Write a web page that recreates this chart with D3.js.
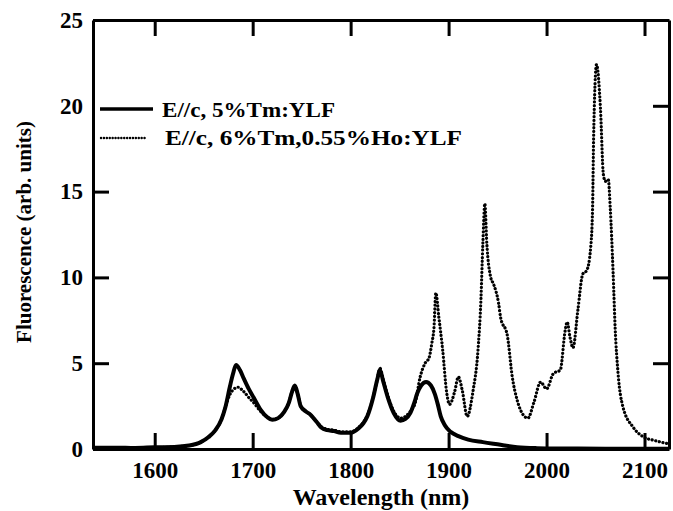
<!DOCTYPE html>
<html>
<head>
<meta charset="utf-8">
<script src="https://cdn.jsdelivr.net/npm/d3@7"></script>
<style>
  html, body { margin: 0; padding: 0; background: #fff; }
  svg { display: block; }
  text { font-family: "Liberation Serif", "Times New Roman", serif; fill: #000; }
</style>
</head>
<body>
<svg id="chart" width="673" height="511"></svg>
<script>
// ---- data ----
const xTicks = [1600, 1700, 1800, 1900, 2000, 2100];
const yTicks = [0, 5, 10, 15, 20, 25];
const seriesNames = ["E//c, 5%Tm:YLF", "E//c, 6%Tm,0.55%Ho:YLF"];

const tmWavelength = [1537,1560,1580,1600,1620,1635,1647,1655,1662,1668,1672,1677,1680,1683,1687,1691,1696,1701,1708,1715,1720,1726,1732,1737,1740,1743,1746,1749,1754,1759,1765,1770,1776,1783,1790,1800,1808,1813,1817,1823,1827,1830,1833,1838,1844,1851,1856,1861,1865,1868,1872,1877,1882,1886,1889,1892,1896,1902,1910,1920,1935,1953,1970,1990,2020,2060,2125];
const tmValues = [0.08,0.08,0.06,0.1,0.12,0.2,0.4,0.7,1.1,1.7,2.4,3.7,4.4,4.9,4.6,4.1,3.5,3.0,2.3,1.85,1.7,1.8,2.15,2.7,3.3,3.7,3.2,2.5,2.2,2.0,1.6,1.25,1.1,1.05,0.95,0.95,1.2,1.5,1.9,3.0,4.0,4.6,4.0,3.0,2.1,1.65,1.75,2.1,2.7,3.25,3.7,3.9,3.7,3.2,2.6,1.9,1.4,1.0,0.75,0.55,0.4,0.25,0.1,0.05,0.03,0.02,0.02];

const hoWavelength = [1537,1560,1600,1620,1635,1647,1655,1662,1668,1672,1677,1681,1685,1690,1696,1701,1708,1715,1720,1726,1732,1737,1740,1743,1746,1749,1754,1759,1765,1770,1776,1783,1790,1800,1808,1813,1817,1823,1827,1830,1833,1838,1844,1851,1856,1861,1866,1871,1876,1880,1883,1885,1887,1890,1894,1898,1901,1906,1910,1914,1919,1925,1930,1933,1935,1937,1939,1943,1946,1951,1953,1960,1965,1970,1976,1981,1987,1994,2000,2007,2014,2019,2021,2024,2027,2032,2037,2041,2045,2047,2048,2051,2055,2058,2060,2063,2065,2068,2070,2073,2078,2088,2099,2110,2125];
const hoValues = [0.05,0.05,0.08,0.12,0.2,0.4,0.7,1.1,1.7,2.4,3.2,3.5,3.6,3.4,3.0,2.7,2.2,1.85,1.72,1.8,2.15,2.7,3.3,3.65,3.2,2.5,2.2,2.0,1.6,1.3,1.15,1.1,1.0,1.0,1.25,1.55,1.95,3.0,4.0,4.7,4.1,3.1,2.2,1.8,1.9,2.2,2.7,4.2,5.0,5.3,6.2,7.0,9.1,7.7,5.75,3.3,2.6,3.3,4.2,3.4,1.9,3.4,5.75,8.7,12.0,14.3,12.0,10.0,9.6,8.5,7.7,6.6,4.2,2.85,2.0,1.8,2.7,3.9,3.5,4.4,4.6,6.9,7.4,6.5,5.9,8.1,10.2,10.4,11.7,14.1,18.0,22.4,19.9,16.0,15.6,15.7,14.1,10.2,7.1,4.4,2.45,1.3,0.7,0.5,0.3];

// ---- layout ----
const svg = d3.select("#chart");
const L = 93, R = 669, T = 20, B = 449;
const x = d3.scaleLinear().domain([1537, 2125]).range([L, R]);
const y = d3.scaleLinear().domain([0, 25]).range([B, T]);

const tmData = tmWavelength.map((w, i) => [w, tmValues[i]]);
const hoData = hoWavelength.map((w, i) => [w, hoValues[i]]);

const line = d3.line().x(d => x(d[0])).y(d => y(d[1])).curve(d3.curveMonotoneX);

svg.append("defs").append("clipPath").attr("id", "clip")
  .append("rect").attr("x", L).attr("y", T).attr("width", R - L).attr("height", B - T);

const g = svg.append("g").attr("clip-path", "url(#clip)");
g.append("path").datum(hoData).attr("d", line)
  .attr("fill", "none").attr("stroke", "#000").attr("stroke-width", 3.2)
  .attr("stroke-linecap", "round").attr("stroke-dasharray", "0.1 3.6");
g.append("path").datum(tmData).attr("d", line)
  .attr("fill", "none").attr("stroke", "#000").attr("stroke-width", 4)
  .attr("stroke-linejoin", "round");

// legend (white box hides the 20 tick, as in the original)
const lg = svg.append("g");
lg.append("rect").attr("x", 96).attr("y", 97).attr("width", 372).attr("height", 55).attr("fill", "#fff");

// axes (ticks inward)
const tickLen = 16;
const axB = d3.axisBottom(x).tickValues(xTicks).tickSize(-tickLen).tickSizeOuter(0).tickPadding(13).tickFormat(d3.format("d"));
const axT = d3.axisTop(x).tickValues(xTicks).tickSize(-tickLen).tickSizeOuter(0).tickFormat("");
const axL = d3.axisLeft(y).tickValues(yTicks).tickSize(-tickLen).tickSizeOuter(0).tickPadding(10);
const axR = d3.axisRight(y).tickValues(yTicks.slice(1, -1)).tickSize(-tickLen).tickSizeOuter(0).tickFormat("");

function style(sel) {
  sel.select(".domain").attr("stroke", "#000").attr("stroke-width", 3);
  sel.selectAll(".tick line").attr("stroke", "#000").attr("stroke-width", 3);
  sel.selectAll(".tick text").style("font-family", "'Liberation Serif', serif")
    .style("font-size", "23px").style("font-weight", "bold").attr("fill", "#000");
}
svg.append("g").attr("transform", `translate(0,${B})`).call(axB).call(style);
svg.append("g").attr("transform", `translate(0,${T})`).call(axT).call(style);
const gl = svg.append("g").attr("transform", `translate(${L},0)`).call(axL).call(style);
svg.append("g").attr("transform", `translate(${R},0)`).call(axR).call(style);
// the 20 tick on the left is hidden behind the legend in the original
gl.selectAll(".tick").filter(d => d === 20).select("line").remove();

// legend marks
lg.raise();
lg.append("line").attr("x1", 100).attr("x2", 153).attr("y1", 109).attr("y2", 109)
  .attr("stroke", "#000").attr("stroke-width", 3.5);
lg.append("line").attr("x1", 101).attr("x2", 145).attr("y1", 138).attr("y2", 138)
  .attr("stroke", "#000").attr("stroke-width", 2.4).attr("stroke-linecap", "round").attr("stroke-dasharray", "0.1 2.8");
lg.append("text").attr("x", 162).attr("y", 117).attr("textLength", 173).attr("lengthAdjust", "spacingAndGlyphs")
  .style("font-size", "22px").style("font-weight", "bold").text(seriesNames[0]);
lg.append("text").attr("x", 165).attr("y", 145).attr("textLength", 297).attr("lengthAdjust", "spacingAndGlyphs")
  .style("font-size", "22px").style("font-weight", "bold").text(seriesNames[1]);

// axis titles
svg.append("text").attr("x", (L + R) / 2).attr("y", 505).attr("text-anchor", "middle")
  .style("font-size", "24px").style("font-weight", "bold").text("Wavelength (nm)");
svg.append("text").attr("transform", `translate(31,232) rotate(-90)`).attr("text-anchor", "middle")
  .style("font-size", "21px").style("font-weight", "bold").text("Fluorescence (arb. units)");
</script>
</body>
</html>
